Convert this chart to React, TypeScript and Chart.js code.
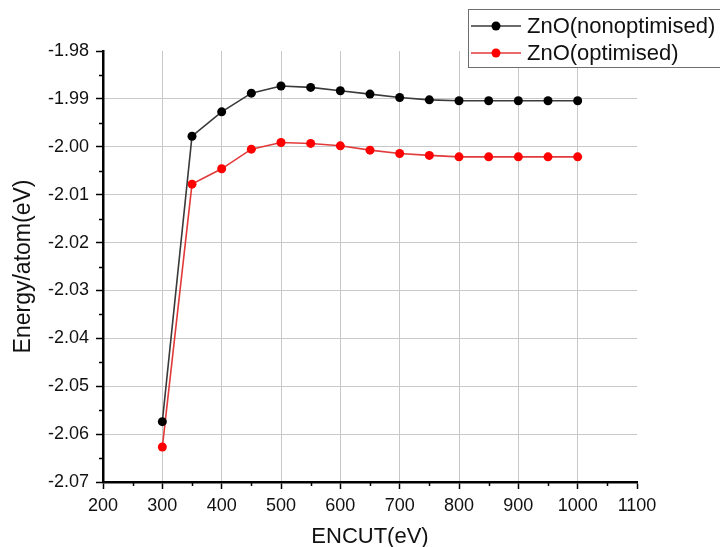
import React, { useEffect, useRef } from "react";
import { Chart, registerables } from "chart.js";

Chart.register(...registerables);

const encut = [300, 350, 400, 450, 500, 550, 600, 650, 700, 750, 800, 850, 900, 950, 1000];
const nonOptimised = [
  -2.0574, -1.9978, -1.9927, -1.9888, -1.9873, -1.9876, -1.9883, -1.989, -1.9897, -1.9902,
  -1.9904, -1.9904, -1.9904, -1.9904, -1.9904,
];
const optimised = [
  -2.0627, -2.0078, -2.0046, -2.0005, -1.9991, -1.9993, -1.9998, -2.0007, -2.0014, -2.0018,
  -2.0021, -2.0021, -2.0021, -2.0021, -2.0021,
];
const seriesNames = ["ZnO(nonoptimised)", "ZnO(optimised)"];
const xTitle = "ENCUT(eV)";
const yTitle = "Energy/atom(eV)";
const xMin = 200;
const xMax = 1100;
const yMin = -2.07;
const yMax = -1.98;

const FONT = "'Liberation Sans', Arial, sans-serif";

const minorTicks = {
  id: "minorTicks",
  afterDraw(chart: any) {
    const { ctx, chartArea, scales } = chart;
    const xs = scales.x;
    const ys = scales.y;
    ctx.save();
    ctx.strokeStyle = "#000";
    ctx.lineWidth = 1.5;
    ctx.beginPath();
    for (let v = xMin + 50; v < xMax; v += 100) {
      const px = Math.round(xs.getPixelForValue(v)) + 0.5;
      ctx.moveTo(px, chartArea.bottom);
      ctx.lineTo(px, chartArea.bottom + 4);
    }
    for (let i = 0; i < 9; i++) {
      const v = yMin + 0.005 + i * 0.01;
      const py = Math.round(ys.getPixelForValue(v)) + 0.5;
      ctx.moveTo(chartArea.left, py);
      ctx.lineTo(chartArea.left - 4, py);
    }
    ctx.stroke();
    ctx.restore();
  },
};

const boxLegend = {
  id: "boxLegend",
  afterDraw(chart: any) {
    const { ctx } = chart;
    const ds = chart.data.datasets;
    ctx.save();
    const bx = 468.5;
    const by = 9.5;
    const bw = 260;
    const bh = 58;
    ctx.fillStyle = "#fff";
    ctx.fillRect(bx, by, bw, bh);
    ctx.strokeStyle = "#6e6e6e";
    ctx.lineWidth = 1;
    ctx.strokeRect(bx, by, bw, bh);
    const rows = [26, 53];
    ds.forEach((d: any, i: number) => {
      const y = rows[i];
      ctx.strokeStyle = d.borderColor;
      ctx.lineWidth = 1.5;
      ctx.beginPath();
      ctx.moveTo(471, y);
      ctx.lineTo(521, y);
      ctx.stroke();
      ctx.fillStyle = d.pointBackgroundColor;
      ctx.beginPath();
      ctx.arc(496, y, 4.5, 0, Math.PI * 2);
      ctx.fill();
      ctx.fillStyle = "#111";
      ctx.font = `22px ${FONT}`;
      ctx.textBaseline = "middle";
      ctx.textAlign = "left";
      ctx.fillText(d.label, 527, y + 1);
    });
    ctx.restore();
  },
};

export default function App() {
  const ref = useRef<HTMLCanvasElement | null>(null);
  useEffect(() => {
    if (!ref.current) return;
    const chart = new Chart(ref.current, {
      type: "line",
      data: {
        datasets: [
          {
            label: seriesNames[0],
            data: encut.map((x, i) => ({ x, y: nonOptimised[i] })),
            borderColor: "#3a3a3a",
            backgroundColor: "#000",
            pointBackgroundColor: "#000",
            pointBorderColor: "#000",
            pointRadius: 4.5,
            pointBorderWidth: 0,
            borderWidth: 1.6,
            tension: 0,
          },
          {
            label: seriesNames[1],
            data: encut.map((x, i) => ({ x, y: optimised[i] })),
            borderColor: "#e23a3a",
            backgroundColor: "#ff0000",
            pointBackgroundColor: "#ff0000",
            pointBorderColor: "#ff0000",
            pointRadius: 4.5,
            pointBorderWidth: 0,
            borderWidth: 1.6,
            tension: 0,
          },
        ],
      },
      options: {
        animation: false,
        responsive: false,
        devicePixelRatio: 1,
        layout: { padding: { left: 0, right: 83, top: 51, bottom: 0 } },
        plugins: { legend: { display: false }, tooltip: { enabled: false } },
        scales: {
          x: {
            type: "linear",
            min: xMin,
            max: xMax,
            afterFit: (s: any) => {
              s.height = 65;
            },
            ticks: {
              stepSize: 100,
              color: "#111",
              font: { family: FONT, size: 18 },
              padding: 6,
              maxRotation: 0,
              autoSkip: false,
              callback: (v: any) => String(Math.round(Number(v))),
            },
            grid: {
              color: (c: any) => (c.tick && c.tick.value === xMax ? "rgba(0,0,0,0)" : "#c8c8c8"),
              lineWidth: 1,
              tickLength: 7,
              tickColor: "#000",
              tickWidth: 1.5,
            },
            border: { display: true, color: "#000", width: 2.5 },
            title: {
              display: true,
              text: xTitle,
              color: "#111",
              font: { family: FONT, size: 22 },
              padding: { top: 0, bottom: -3 },
            },
          },
          y: {
            type: "linear",
            min: yMin,
            max: yMax,
            afterFit: (s: any) => {
              s.width = 103;
            },
            ticks: {
              stepSize: 0.01,
              color: "#111",
              font: { family: FONT, size: 18 },
              padding: 7,
              callback: (v: any) => Number(v).toFixed(2),
            },
            grid: {
              color: (c: any) =>
                c.tick && Math.abs(c.tick.value - yMax) < 1e-9 ? "rgba(0,0,0,0)" : "#c8c8c8",
              lineWidth: 1,
              tickLength: 7,
              tickColor: "#000",
              tickWidth: 1.5,
            },
            border: { display: true, color: "#000", width: 2.5 },
            title: {
              display: true,
              text: yTitle,
              color: "#111",
              font: { family: FONT, size: 23 },
              padding: { top: 10, bottom: 0 },
            },
          },
        },
      },
      plugins: [minorTicks, boxLegend],
    });
    return () => chart.destroy();
  }, []);
  return (
    <div style={{ position: "fixed", left: 0, top: 0, width: 720, height: 547, background: "#fff" }}>
      <canvas ref={ref} width={720} height={547} style={{ display: "block" }} />
    </div>
  );
}
